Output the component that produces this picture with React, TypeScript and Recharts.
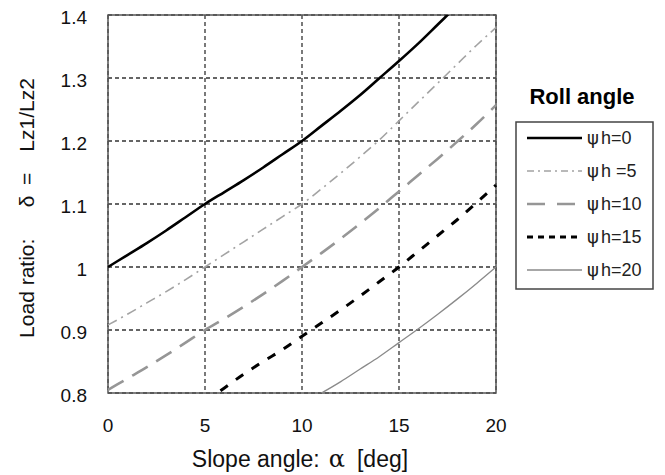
import React from "react";
import { LineChart, Line, XAxis, YAxis, CartesianGrid, ReferenceArea } from "recharts";

const alpha = [0, 1, 2, 3, 4, 5, 6, 7, 8, 9, 10, 11, 12, 13, 14, 15, 16, 17, 18, 19, 20];
const psi0 = [1.0, 1.019, 1.038, 1.058, 1.079, 1.1, 1.119, 1.138, 1.158, 1.179, 1.2, 1.224, 1.248, 1.273, 1.3, 1.327, 1.355, 1.385, 1.415, 1.447, 1.48];
const psi5 = [0.908, 0.925, 0.943, 0.961, 0.98, 1.0, 1.02, 1.04, 1.06, 1.08, 1.1, 1.124, 1.149, 1.175, 1.202, 1.232, 1.262, 1.292, 1.322, 1.352, 1.38];
const psi10 = [0.805, 0.823, 0.841, 0.86, 0.88, 0.9, 0.918, 0.937, 0.957, 0.978, 1.0, 1.022, 1.045, 1.069, 1.094, 1.12, 1.146, 1.172, 1.199, 1.227, 1.257];
const psi15 = [null, null, null, null, null, 0.786, 0.808, 0.83, 0.85, 0.869, 0.89, 0.911, 0.932, 0.954, 0.977, 1.0, 1.025, 1.05, 1.075, 1.102, 1.13];
const psi20 = [null, null, null, null, null, null, null, null, null, null, 0.785, 0.8, 0.818, 0.838, 0.858, 0.88, 0.902, 0.925, 0.949, 0.974, 1.0];

const xTicks = [0, 5, 10, 15, 20];
const yTicks = [0.8, 0.9, 1, 1.1, 1.2, 1.3, 1.4];

const seriesNames = ["h=0", "h =5", "h=10", "h=15", "h=20"];
const seriesKeys = ["h0", "h5", "h10", "h15", "h20"];
const seriesValues = [psi0, psi5, psi10, psi15, psi20];

const styles = [
  { stroke: "#000", width: 2.6, dash: undefined, legendDash: undefined },
  { stroke: "#a3a3a3", width: 1.6, dash: "10 5 2 5", legendDash: "7 4 2 4" },
  { stroke: "#969696", width: 2.6, dash: "18 10", legendDash: "18 12" },
  { stroke: "#000", width: 3, dash: "9 10", legendDash: "6 5" },
  { stroke: "#8a8a8a", width: 1.3, dash: undefined, legendDash: undefined },
];

const data = alpha.map((a, i) => {
  const row: Record<string, number | null> = { alpha: a };
  seriesKeys.forEach((k, j) => {
    row[k] = seriesValues[j][i];
  });
  return row;
});

const FONT = "'Liberation Sans', Arial, sans-serif";

const XLabel = (props: any) => {
  const vb = props.viewBox || {};
  const cx = vb.x + vb.width / 2 - 2;
  return (
    <text x={cx} y={467} textAnchor="middle" fontFamily={FONT} fontSize={23} fill="#111">
      Slope angle:
      <tspan fontFamily="'DejaVu Serif', serif" fontSize={24} dx={9}>α</tspan>
      <tspan dx={12}>[deg]</tspan>
    </text>
  );
};

const YLabel = () => {
  return (
    <text
      x={34}
      y={208}
      transform="rotate(-90, 34, 208)"
      textAnchor="middle"
      fontFamily={FONT}
      fontSize={21}
      fill="#111"
    >
      {"Load ratio:\u2003\u2002δ\u2002=\u2003Lz1/Lz2"}
    </text>
  );
};

const LegendBox = () => {
  const rowY = (i: number) => 138 + 33 * i;
  return (
    <svg
      width={665}
      height={475}
      style={{ position: "absolute", left: 0, top: 0, pointerEvents: "none" }}
    >
      <text x={582} y={104} textAnchor="middle" fontFamily={FONT} fontWeight="bold" fontSize={22} fill="#000">
        Roll angle
      </text>
      <rect x={516} y={122} width={137} height={167} fill="none" stroke="#444" strokeWidth={1.5} />
      {seriesNames.map((name, i) => (
        <g key={name}>
          <line
            x1={527}
            x2={582}
            y1={rowY(i)}
            y2={rowY(i)}
            stroke={styles[i].stroke}
            strokeWidth={styles[i].width}
            strokeDasharray={styles[i].legendDash}
          />
          <text x={587} y={rowY(i) + 6} fontFamily={FONT} fontSize={18} fill="#222">
            <tspan fontFamily="'DejaVu Sans', sans-serif">ψ</tspan>
            <tspan dx={2}>{name}</tspan>
          </text>
        </g>
      ))}
    </svg>
  );
};

export default function App() {
  return (
    <div style={{ position: "absolute", left: 0, top: 0, width: 665, height: 475, background: "#fff" }}>
      <LineChart
        width={665}
        height={475}
        data={data}
        margin={{ top: 15, right: 169, bottom: 0, left: 0 }}
      >
        <CartesianGrid stroke="#333" strokeDasharray="4 3" strokeWidth={1.3} />
        <XAxis
          dataKey="alpha"
          type="number"
          domain={[0, 20]}
          ticks={xTicks}
          height={82}
          axisLine={false}
          tickLine={false}
          tickSize={0}
          tickMargin={26}
          tick={{ fontFamily: FONT, fontSize: 19, fill: "#111" }}
          label={<XLabel />}
        />
        <YAxis
          type="number"
          domain={[0.8, 1.4]}
          ticks={yTicks}
          allowDataOverflow
          width={108}
          axisLine={false}
          tickLine={false}
          tickSize={0}
          tickMargin={21}
          tick={{ fontFamily: FONT, fontSize: 19, fill: "#111", dy: 2 }}
          label={<YLabel />}
        />
        <ReferenceArea x1={0} x2={20} y1={0.8} y2={1.4} fill="none" fillOpacity={0} stroke="#555" strokeWidth={1.5} />
        {seriesKeys.map((k, i) => (
          <Line
            key={k}
            dataKey={k}
            type="monotone"
            stroke={styles[i].stroke}
            strokeWidth={styles[i].width}
            strokeDasharray={styles[i].dash}
            dot={false}
            activeDot={false}
            isAnimationActive={false}
          />
        ))}
      </LineChart>
      <LegendBox />
    </div>
  );
}
